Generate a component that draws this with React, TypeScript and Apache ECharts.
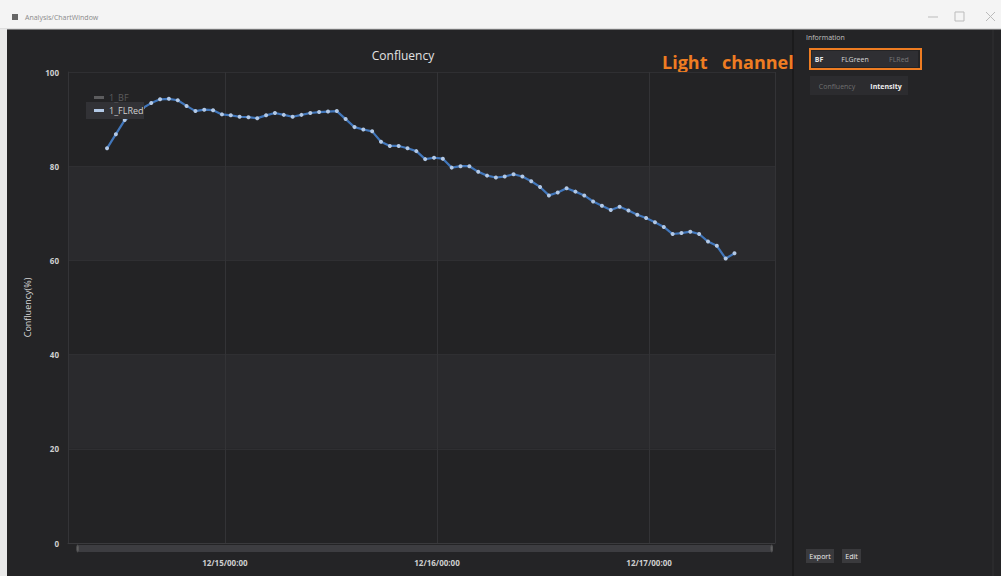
import React, { useEffect, useRef } from "react";
import * as echarts from "echarts";

const seriesName = "1_FLRed";
const hiddenSeriesName = "1_BF";
const startTime = new Date(2023, 11, 14, 10, 40).getTime();
const stepMs = 3600 * 1000;
const confluency: number[] = [
  83.8, 86.8, 89.8, 91.0, 92.3, 93.4, 94.2, 94.3, 94.0, 92.8,
  91.7, 92.0, 91.9, 91.0, 90.8, 90.5, 90.4, 90.2, 90.8, 91.3,
  90.9, 90.5, 90.9, 91.3, 91.5, 91.6, 91.7, 90.0, 88.3, 87.8,
  87.4, 85.2, 84.3, 84.3, 83.8, 83.2, 81.5, 81.8, 81.6, 79.7,
  80.0, 80.0, 78.8, 78.0, 77.6, 77.8, 78.3, 77.8, 76.8, 75.6,
  73.8, 74.4, 75.3, 74.6, 73.8, 72.5, 71.6, 70.7, 71.4, 70.6,
  69.7, 69.0, 68.1, 67.1, 65.6, 65.8, 66.1, 65.6, 64.0, 63.1,
  60.4, 61.5,
];
const axisMin = new Date(2023, 11, 14, 6, 15).getTime();
const axisMax = new Date(2023, 11, 17, 14, 15).getTime();
const yTicks = [0, 20, 40, 60, 80, 100];
const channelButtons = ["BF", "FLGreen", "FLRed"];
const modeButtons = ["Confluency", "Intensity"];

const FONT = "'Open Sans', 'Noto Sans', sans-serif";

function pad(n: number) {
  return n < 10 ? "0" + n : "" + n;
}

export default function App() {
  const ref = useRef<HTMLDivElement>(null);
  useEffect(() => {
    if (!ref.current) return;
    const chart = echarts.init(ref.current, undefined, { renderer: "svg" });
    const data = confluency.map((v, i) => [startTime + i * stepMs, v]);
    const option: any = {
      animation: false,
      backgroundColor: "#242426",
      textStyle: { fontFamily: FONT },
      title: {
        text: "Confluency",
        left: 398,
        top: 44,
        textAlign: "center",
        textStyle: { color: "#e2e2e2", fontSize: 12, fontWeight: "normal", fontFamily: FONT },
      },
      legend: {
        data: [hiddenSeriesName, seriesName],
        selected: { [hiddenSeriesName]: false },
        orient: "vertical",
        left: 89,
        top: 88,
        itemGap: 4,
        itemWidth: 10,
        itemHeight: 3,
        inactiveColor: "#5c5c5e",
        textStyle: { color: "#d0d0d0", fontSize: 9, fontFamily: FONT },
        icon: "rect",
        z: 10,
      },
      grid: { left: 68, right: 226, top: 72, bottom: 33 },
      xAxis: {
        type: "time",
        min: axisMin,
        max: axisMax,
        minInterval: 24 * 3600 * 1000,
        maxInterval: 24 * 3600 * 1000,
        axisLine: { show: true, lineStyle: { color: "#3a3a3d" } },
        axisTick: { show: false },
        axisLabel: {
          color: "#cfcfcf",
          fontSize: 8,
          fontWeight: "bold",
          margin: 15,
          formatter: (v: number) => {
            const d = new Date(v);
            return pad(d.getMonth() + 1) + "/" + pad(d.getDate()) + "/" + pad(d.getHours()) + ":" + pad(d.getMinutes());
          },
        },
        splitLine: { show: true, lineStyle: { color: "#333336", width: 1 } },
      },
      yAxis: {
        type: "value",
        min: 0,
        max: 100,
        interval: 20,
        name: "Confluency(%)",
        nameLocation: "middle",
        nameGap: 36,
        nameTextStyle: { color: "#d8d8d8", fontSize: 9, fontFamily: FONT },
        axisLine: { show: true, lineStyle: { color: "#343437" } },
        axisTick: { show: false },
        axisLabel: {
          color: "#cfcfcf",
          fontSize: 8,
          fontWeight: "bold",
          margin: 9,
          formatter: (v: number) => (yTicks.indexOf(v) >= 0 ? String(v) : ""),
        },
        splitLine: { show: true, lineStyle: { color: "#2f2f32" } },
        splitArea: { show: true, areaStyle: { color: ["#232325", "#2a2a2d"] } },
      },
      dataZoom: [
        {
          type: "slider",
          xAxisIndex: 0,
          filterMode: "none",
          start: 0,
          end: 100,
          left: 76,
          right: 229,
          bottom: 24,
          height: 7,
          showDetail: false,
          showDataShadow: false,
          brushSelect: false,
          borderColor: "transparent",
          backgroundColor: "#38383c",
          fillerColor: "rgba(62,62,66,0.8)",
          handleSize: "110%",
          handleStyle: { color: "#6a6a6e", borderColor: "#555" },
          moveHandleSize: 0,
          textStyle: { color: "transparent" },
        },
      ],
      series: [
        { name: hiddenSeriesName, type: "line", data: [], color: "#888" },
        {
          name: seriesName,
          type: "line",
          data,
          color: "#4277bb",
          lineStyle: { width: 2.2, color: "#4277bb" },
          symbol: "circle",
          symbolSize: 4,
          showSymbol: true,
          itemStyle: { color: "#b3c9e6", borderWidth: 0 },
        },
      ],
      graphic: [
        // title bar
        { type: "rect", shape: { x: 0, y: 0, width: 1001, height: 29 }, style: { fill: "#f4f4f4" }, z: 0 },
        { type: "line", shape: { x1: 0, y1: 29, x2: 1001, y2: 29 }, style: { stroke: "#c8c8c8", lineWidth: 1 } },
        { type: "rect", shape: { x: 0, y: 29, width: 7, height: 547 }, style: { fill: "#e9e9e9" } },
        { type: "rect", shape: { x: 12, y: 14, width: 6, height: 6 }, style: { fill: "#666" } },
        { type: "text", x: 25, y: 17, style: { text: "Analysis/ChartWindow", fontSize: 7, fill: "#8a8a8a", verticalAlign: "middle", fontFamily: FONT } },
        { type: "line", shape: { x1: 928, y1: 17, x2: 938, y2: 17 }, style: { stroke: "#bbb", lineWidth: 1 } },
        { type: "rect", shape: { x: 955, y: 12, width: 9, height: 9 }, style: { fill: "none", stroke: "#bbb", lineWidth: 1 } },
        { type: "line", shape: { x1: 986, y1: 12, x2: 995, y2: 21 }, style: { stroke: "#bbb", lineWidth: 1 } },
        { type: "line", shape: { x1: 995, y1: 12, x2: 986, y2: 21 }, style: { stroke: "#bbb", lineWidth: 1 } },
        // panel separators
        { type: "line", shape: { x1: 793, y1: 30, x2: 793, y2: 576 }, style: { stroke: "#1b1b1c", lineWidth: 2 } },
        { type: "line", shape: { x1: 993, y1: 30, x2: 993, y2: 576 }, style: { stroke: "#303033", lineWidth: 1 } },
        // legend highlight box
        { type: "rect", shape: { x: 86, y: 102, width: 58, height: 17 }, style: { fill: "#323236" }, z: 5 },
        // right panel
        { type: "text", x: 806, y: 37, style: { text: "Information", fontSize: 7, fill: "#c0c0c0", verticalAlign: "middle", fontFamily: FONT } },
        { type: "rect", shape: { x: 812, y: 51, width: 106, height: 16 }, style: { fill: "#2f2f33" } },
        { type: "text", x: 819, y: 59, style: { text: channelButtons[0], fontSize: 7, fill: "#e6e6e6", fontWeight: "bold", verticalAlign: "middle", align: "center", fontFamily: FONT } },
        { type: "text", x: 855, y: 59, style: { text: channelButtons[1], fontSize: 7, fill: "#d8d8d8", verticalAlign: "middle", align: "center", fontFamily: FONT } },
        { type: "text", x: 899, y: 59, style: { text: channelButtons[2], fontSize: 7, fill: "#777", verticalAlign: "middle", align: "center", fontFamily: FONT } },
        { type: "rect", shape: { x: 810, y: 49, width: 111, height: 20 }, style: { fill: "none", stroke: "#ef7d22", lineWidth: 2 } },
        { type: "rect", shape: { x: 810, y: 76, width: 98, height: 19 }, style: { fill: "#2c2c2f" } },
        { type: "text", x: 837, y: 86, style: { text: modeButtons[0], fontSize: 7, fill: "#707070", verticalAlign: "middle", align: "center", fontFamily: FONT } },
        { type: "text", x: 886, y: 86, style: { text: modeButtons[1], fontSize: 7, fill: "#efefef", fontWeight: "bold", verticalAlign: "middle", align: "center", fontFamily: FONT } },
        { type: "text", x: 662, y: 62, style: { text: "Light", fontSize: 18, fill: "#ef7d22", fontWeight: "bold", verticalAlign: "middle", fontFamily: FONT } },
        { type: "text", x: 722, y: 62, style: { text: "channel", fontSize: 18, fill: "#ef7d22", fontWeight: "bold", verticalAlign: "middle", fontFamily: FONT } },
        { type: "rect", shape: { x: 806, y: 549, width: 28, height: 14 }, style: { fill: "#3a3a3d" } },
        { type: "text", x: 820, y: 556, style: { text: "Export", fontSize: 7, fill: "#eee", verticalAlign: "middle", align: "center", fontFamily: FONT } },
        { type: "rect", shape: { x: 842, y: 549, width: 19, height: 14 }, style: { fill: "#3a3a3d" } },
        { type: "text", x: 851.5, y: 556, style: { text: "Edit", fontSize: 7, fill: "#eee", verticalAlign: "middle", align: "center", fontFamily: FONT } },
      ],
    };
    chart.setOption(option);
    return () => chart.dispose();
  }, []);
  return (
    <div
      ref={ref}
      style={{ position: "fixed", left: 0, top: 0, width: 1001, height: 576 }}
    />
  );
}
